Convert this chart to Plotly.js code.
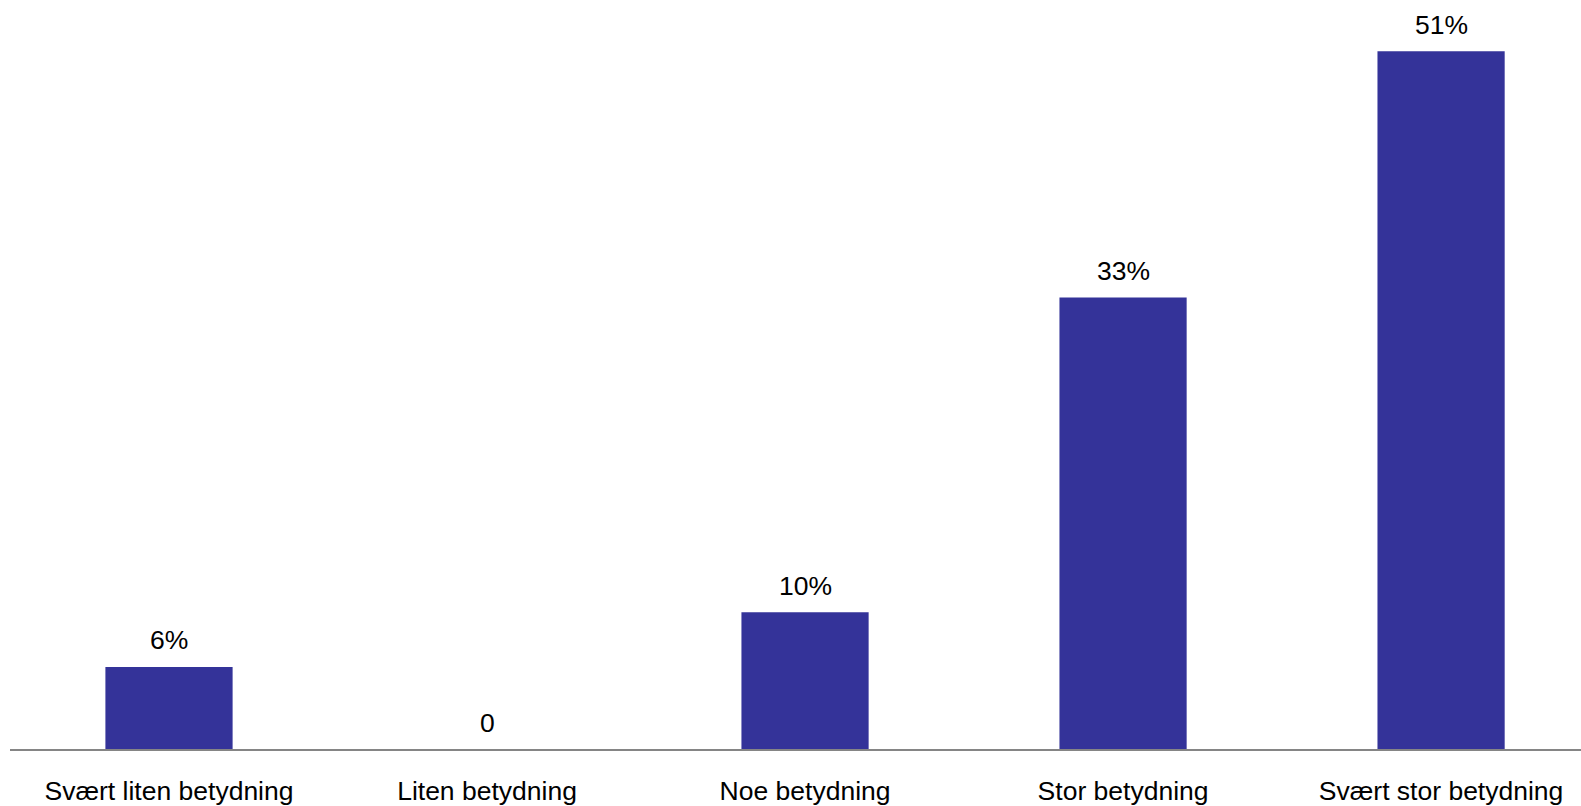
<!DOCTYPE html>
<html>
<head>
<meta charset="utf-8">
<script src="https://cdn.plot.ly/plotly-3.0.1.min.js"></script>
<style>
html,body{margin:0;padding:0;background:#fff;}
#chart{width:1581px;height:806px;}
</style>
</head>
<body>
<div id="chart"></div>
<script>
const categories = ["Svært liten betydning", "Liten betydning", "Noe betydning", "Stor betydning", "Svært stor betydning"];
const values = [6, 0, 10, 33, 51];
const valueLabels = ["6%", "0", "10%", "33%", "51%"];

const FONT = "Liberation Sans, Arial, sans-serif";

const trace = {
  type: "bar",
  x: categories,
  y: values,
  marker: {color: "#343399", line: {width: 0}},
  hoverinfo: "skip",
  width: 0.4
};

const annotations = categories.map((c, i) => ({
  x: c, y: values[i], xref: "x", yref: "y",
  text: valueLabels[i], showarrow: false,
  yanchor: "middle", yshift: 26.5,
  font: {family: FONT, size: 26.5, color: "#000"}
}));

const layout = {
  width: 1581, height: 806,
  margin: {l: 10, r: 0, t: 0, b: 57, pad: 0},
  paper_bgcolor: "#fff", plot_bgcolor: "#fff",
  showlegend: false,
  xaxis: {
    type: "category",
    range: [-0.5, 4.44],
    showline: true, linecolor: "#858585", linewidth: 2,
    ticks: "", showgrid: false, zeroline: false,
    tickfont: {family: FONT, size: 26.5, color: "#000"},
    ticklabelstandoff: 17
  },
  yaxis: {
    range: [0, 54.75],
    visible: false, showgrid: false, zeroline: false
  },
  annotations: annotations
};

Plotly.newPlot("chart", [trace], layout, {displayModeBar: false, staticPlot: true});
</script>
</body>
</html>
